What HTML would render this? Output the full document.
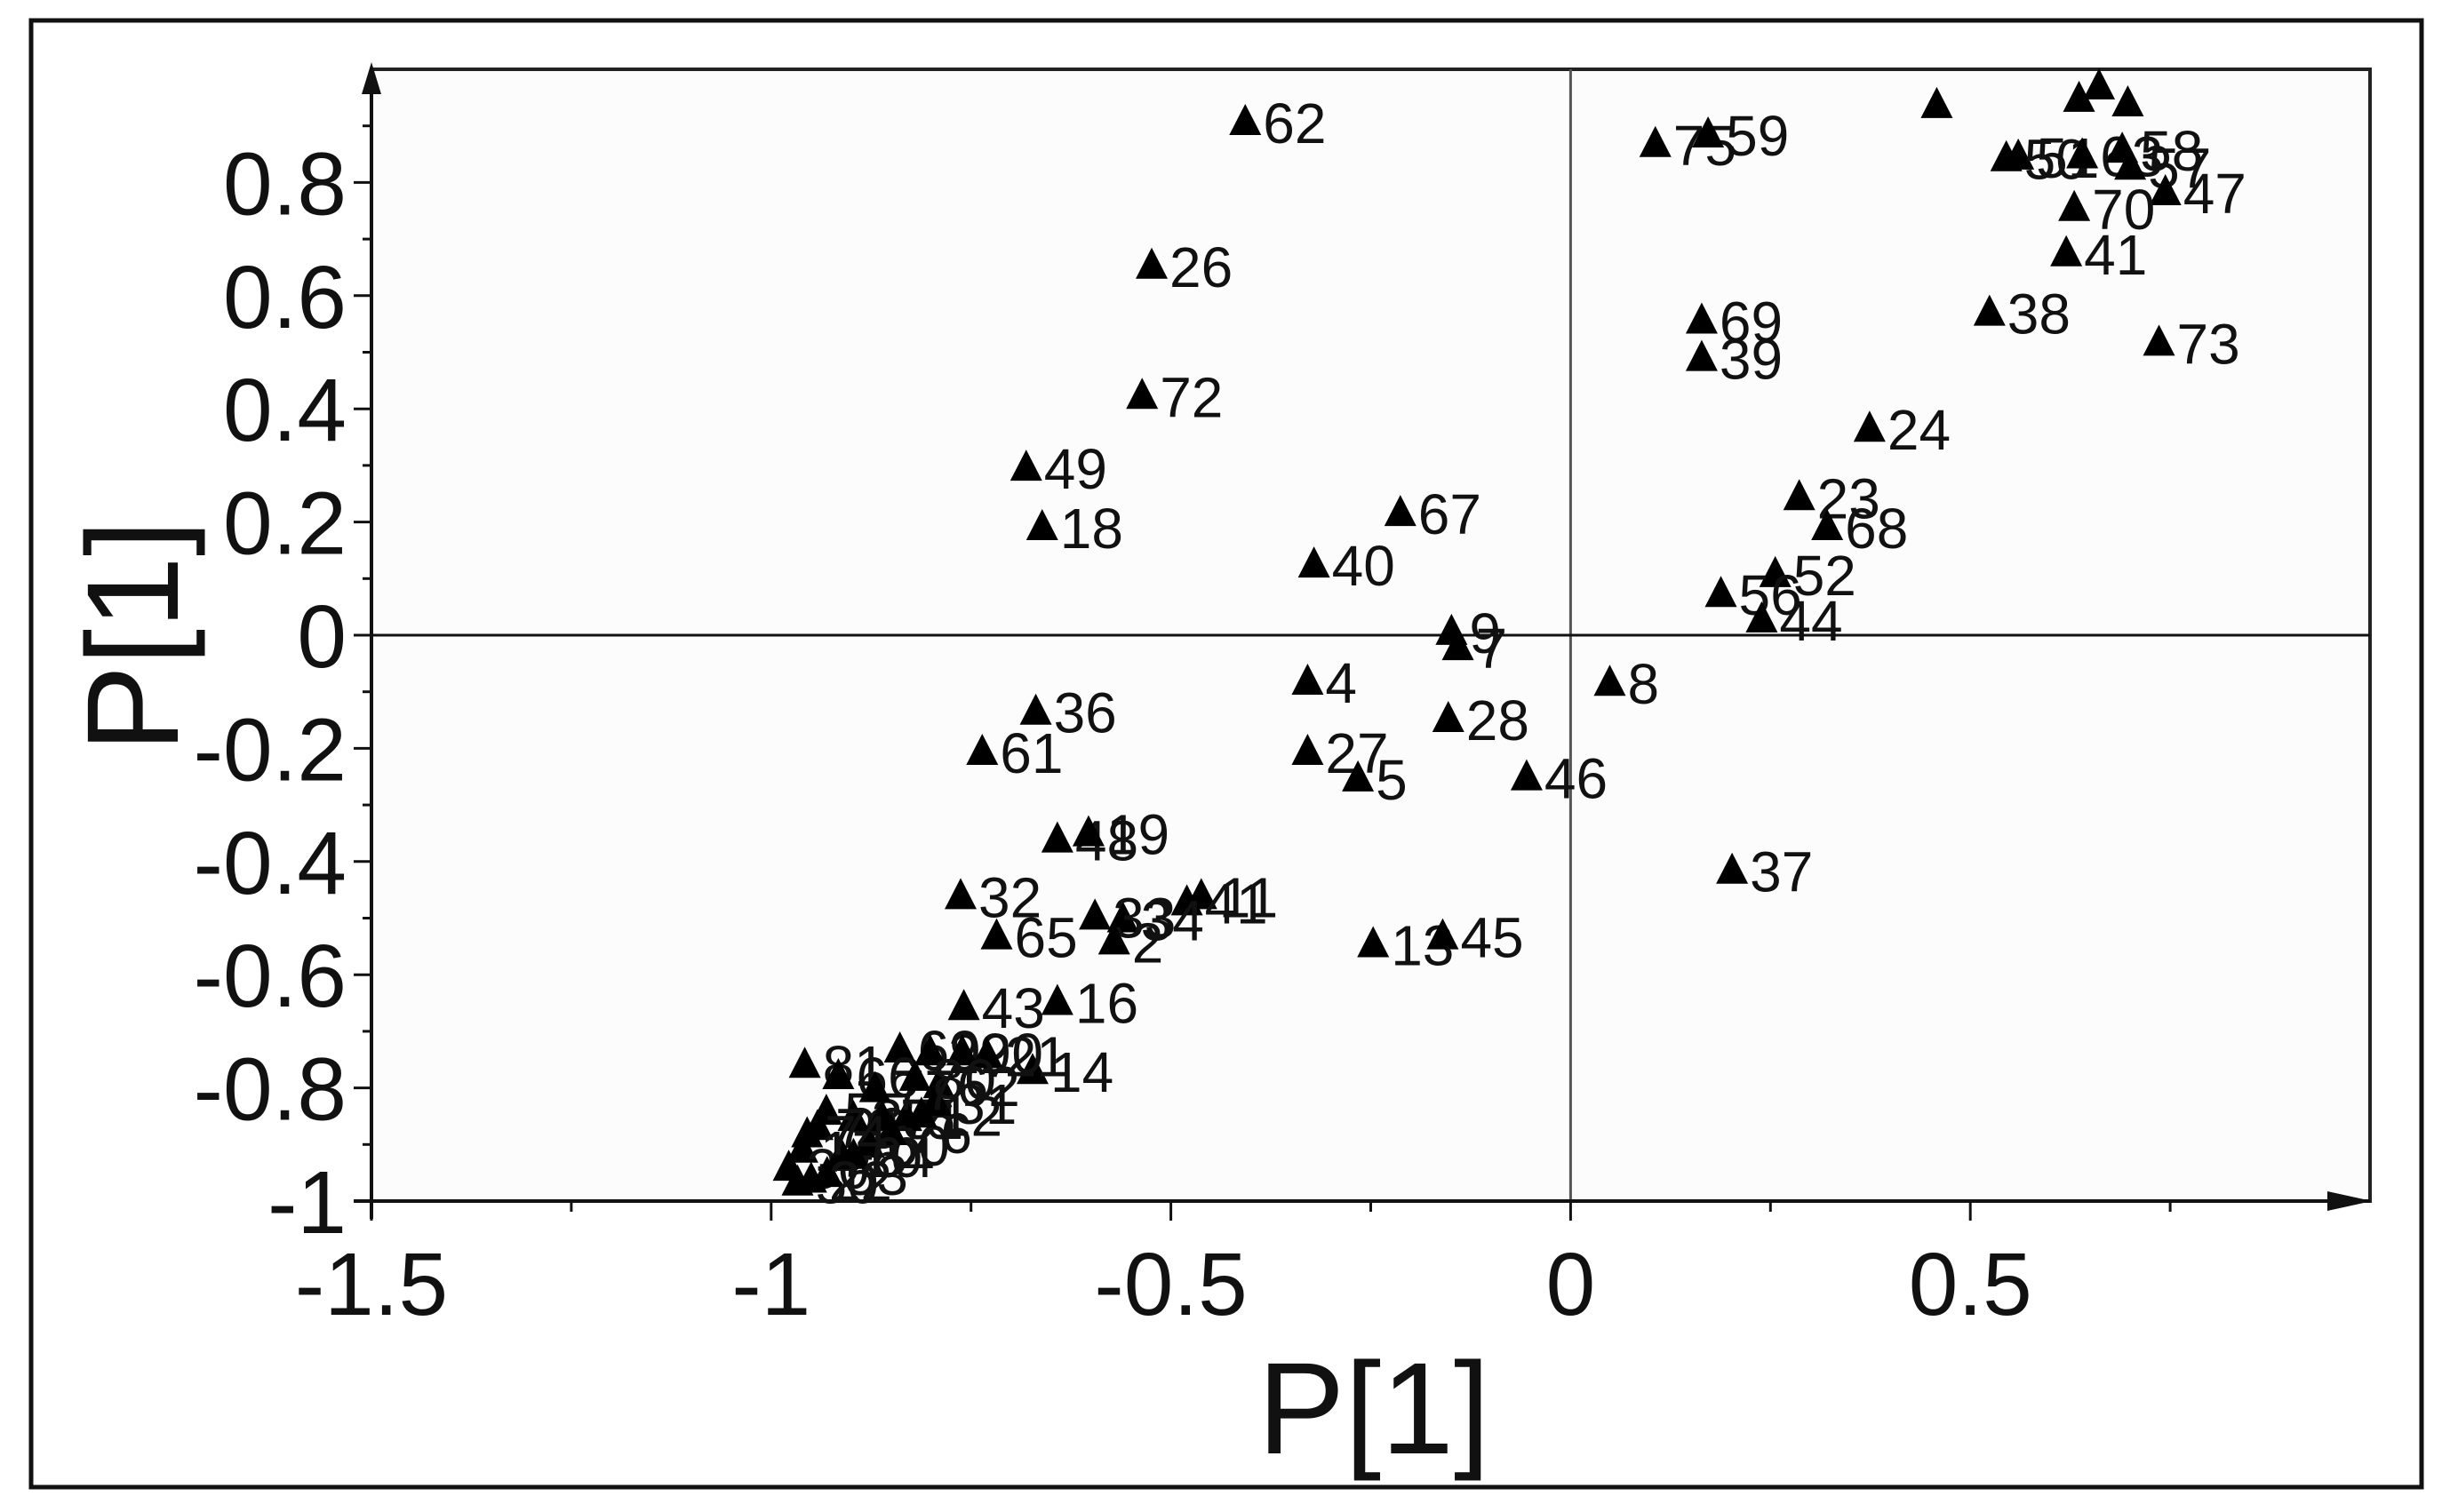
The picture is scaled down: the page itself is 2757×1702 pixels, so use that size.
<!DOCTYPE html>
<html><head><meta charset="utf-8"><style>
html,body{margin:0;padding:0;background:#fff;}
svg{display:block;font-family:"Liberation Sans",Arial,sans-serif;}
</style></head><body>
<svg width="2757" height="1702" viewBox="0 0 2757 1702" xmlns="http://www.w3.org/2000/svg">
<rect x="35" y="23" width="2690" height="1651" fill="#fff" stroke="#111" stroke-width="5"/>
<rect x="418" y="78" width="2249" height="1274" fill="#fcfcfc" stroke="#222" stroke-width="4"/>
<g id="grid"></g>
<g id="axes"></g>
<g id="marks"></g>
<text x="1546" y="1636" font-size="147" text-anchor="middle" fill="#111">P[1]</text>
<text transform="translate(200,716) rotate(-90)" font-size="147" text-anchor="middle" fill="#111">P[1]</text>
</svg>
<script>
const labels=["62","26","72","49","18","40","67","9","7","4","36","61","28","27","5","46","8","37","13","45","48","19","11","41","34","33","32","65","2","43","16","14","81","75","59","","","","","51","50","63","58","57","47","70","41","38","73","69","39","24","23","68","52","56","44","69","29","20","21","66","62","55","35","78","71","6","17","30","50","10","60","76","12","31","53","64","74","77","80","22"];
const xs=[-0.407,-0.524,-0.536,-0.681,-0.661,-0.321,-0.213,-0.149,-0.141,-0.329,-0.669,-0.736,-0.153,-0.329,-0.266,-0.055,0.049,0.202,-0.247,-0.160,-0.642,-0.603,-0.462,-0.480,-0.560,-0.595,-0.763,-0.718,-0.571,-0.759,-0.642,-0.673,-0.958,0.106,0.172,0.458,0.636,0.661,0.697,0.560,0.545,0.640,0.690,0.700,0.744,0.630,0.620,0.524,0.736,0.164,0.164,0.374,0.286,0.321,0.256,0.188,0.239,-0.839,-0.801,-0.761,-0.73,-0.916,-0.790,-0.931,-0.897,-0.942,-0.861,-0.831,-0.961,-0.978,-0.967,-0.912,-0.878,-0.850,-0.812,-0.794,-0.93,-0.897,-0.955,-0.87,-0.82,-0.95];
const ys=[0.909,0.655,0.425,0.298,0.193,0.127,0.218,0.008,-0.019,-0.080,-0.133,-0.204,-0.146,-0.204,-0.251,-0.249,-0.082,-0.414,-0.544,-0.530,-0.359,-0.348,-0.459,-0.470,-0.500,-0.495,-0.459,-0.530,-0.539,-0.655,-0.646,-0.768,-0.757,0.870,0.887,0.939,0.950,0.972,0.942,0.848,0.845,0.850,0.860,0.830,0.785,0.757,0.677,0.572,0.519,0.558,0.492,0.367,0.246,0.193,0.110,0.075,0.030,-0.730,-0.735,-0.735,-0.74,-0.777,-0.793,-0.840,-0.851,-0.867,-0.851,-0.851,-0.907,-0.939,-0.965,-0.918,-0.898,-0.876,-0.845,-0.824,-0.95,-0.918,-0.88,-0.80,-0.78,-0.96];
const xTicks=[-1.5,-1,-0.5,0,0.5];
const xTickLabels=["-1.5","-1","-0.5","0","0.5"];
const yTicks=[-1,-0.8,-0.6,-0.4,-0.2,0,0.2,0.4,0.6,0.8];
const yTickLabels=["-1","-0.8","-0.6","-0.4","-0.2","0","0.2","0.4","0.6","0.8"];

const NS="http://www.w3.org/2000/svg";
const X0=418,X1=2667,Y0=1352,Y1=78;
const xMin=-1.5,xMax=1.0,yMin=-1,yMax=1;
function sx(v){return X0+(v-xMin)/(xMax-xMin)*(X1-X0);}
function sy(v){return Y0-(v-yMin)/(yMax-yMin)*(Y0-Y1);}
function mk(tag,attrs,parent){const e=document.createElementNS(NS,tag);for(const k in attrs)e.setAttribute(k,attrs[k]);parent.appendChild(e);return e;}
const grid=document.getElementById('grid'),axes=document.getElementById('axes'),marks=document.getElementById('marks');

let zl=mk('line',{x1:sx(0),x2:sx(0),y1:Y1,y2:Y0,stroke:'#555','stroke-width':3},grid);


let zh=mk('line',{x1:X0,x2:X1,y1:sy(0),y2:sy(0),stroke:'#111','stroke-width':3},grid);



let ya=mk('line',{x1:X0,x2:X0,y1:Y0+20,y2:Y1,stroke:'#111','stroke-width':4},axes);


let yar=mk('polygon',{points:`${X0-11},${Y1+28} ${X0+11},${Y1+28} ${X0},${Y1-8}`,fill:'#111'},axes);


let xa=mk('line',{x1:X0-20,x2:X1,y1:Y0,y2:Y0,stroke:'#111','stroke-width':4},axes);


let xar=mk('polygon',{points:`${X1-48},${Y0-11} ${X1-48},${Y0+11} ${X1+2},${Y0}`,fill:'#111'},axes);



for(let v=-1.5;v<=0.76;v+=0.25){const maj=Math.abs(v*2-Math.round(v*2))<1e-6;
 let t=mk('line',{x1:sx(v),x2:sx(v),y1:Y0,y2:Y0+(maj?22:12),stroke:'#111','stroke-width':3},axes);
 
 }
for(let v=-1;v<=0.91;v+=0.1){const maj=Math.abs(v*5-Math.round(v*5))<1e-6;
 let t=mk('line',{x1:X0,x2:X0-(maj?20:10),y1:sy(v),y2:sy(v),stroke:'#111','stroke-width':3},axes);
 
 }
xTicks.forEach((v,i)=>{let t=mk('text',{x:sx(v),y:Y0+128,'font-size':100,'text-anchor':'middle',fill:'#111'},axes);t.textContent=xTickLabels[i];
 
 });
yTicks.forEach((v,i)=>{let t=mk('text',{x:390,y:sy(v)+36,'font-size':100,'text-anchor':'end',fill:'#111'},axes);t.textContent=yTickLabels[i];
 
 });

xs.forEach((xv,i)=>{const cx=sx(xv),cy=sy(ys[i]);
 let p=mk('polygon',{points:`${cx-18},${cy+16} ${cx+18},${cy+16} ${cx},${cy-19}`,fill:'#000'},marks);
 
 
 if(labels[i]){let t=mk('text',{x:cx+20,y:cy+25,'font-size':64,fill:'#111'},marks);t.textContent=labels[i];
 
 }
});
</script>
</body></html>
